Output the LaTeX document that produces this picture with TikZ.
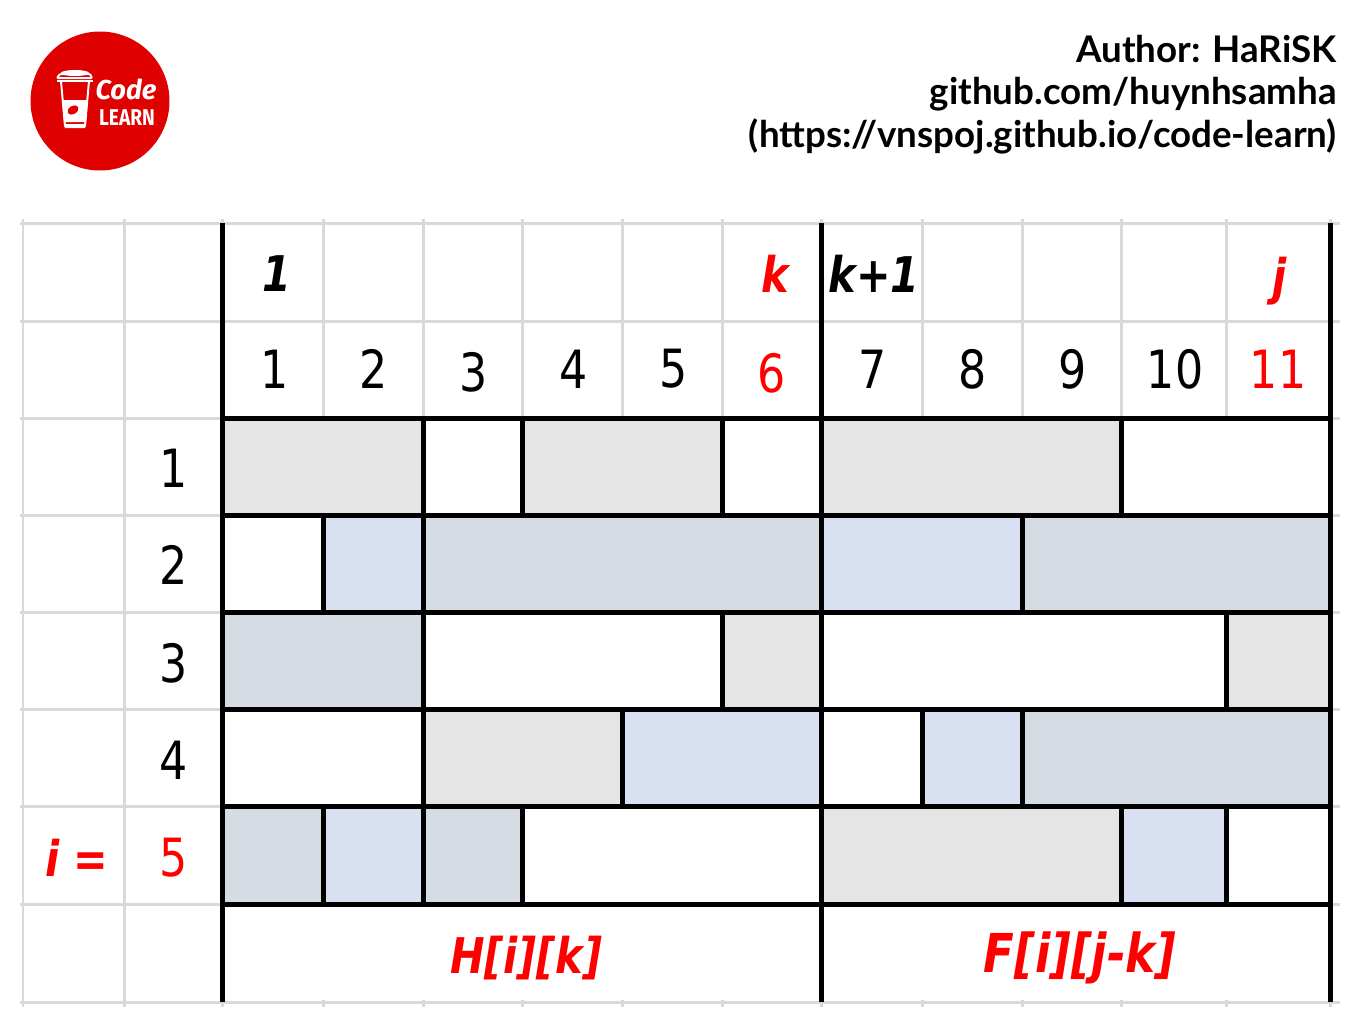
\documentclass[tikz,border=0pt]{standalone}
\usepackage{xcolor}
\usepackage{fontspec}
\setmainfont[FakeStretch=.84]{DejaVu Sans}
\newfontfamily\headfont{Lato}
\newfontfamily\logofont{Fira Sans}
\newfontfamily\learnfont[FakeStretch=.84]{Fira Sans}
\usetikzlibrary{positioning}
\definecolor{logored}{HTML}{DF0000}
\definecolor{cellgray}{HTML}{E5E5E5}
\definecolor{cellslate}{HTML}{D6DCE4}
\definecolor{celllav}{HTML}{D9E0F2}
\definecolor{gridgray}{HTML}{D9D9D9}
\definecolor{labelred}{HTML}{FF0000}
\tikzset{
    gridline/.style={draw=gridgray,line width=.06cm},
    barline/.style={draw=black,line width=.1cm},
    numlabel/.style={font=\fontsize{30}{30}\selectfont,inner sep=0pt},
    namelabel/.style={font=\fontsize{28}{28}\selectfont\bfseries\itshape,inner sep=0pt},
    headline/.style={font=\headfont\fontsize{20.9}{20.9}\selectfont\bfseries,inner sep=0pt,anchor=east}
}
\begin{document}
\begin{tikzpicture}[x=.02cm,y=-.02cm]
    \useasboundingbox (0,0) rectangle (1362,1028);
    \fill[white] (0,0) rectangle (1362,1028);
    % light grid
    \foreach \x in {23,124,222,323,423,522,622,722,821,922,1022,1121,1226,1330}
        \draw[gridline] (\x,219) -- (\x,1007);
    \foreach \y in {223,321,418,515,612,709,806,904,1002}
        \draw[gridline] (20,\y) -- (1340,\y);
    \fill[white] (222,418) rectangle (1330,1000);
    % cells: left, right, top, colour
    \foreach \a/\b/\y/\c in {
        222/423/418/cellgray,522/722/418/cellgray,821/1121/418/cellgray,
        323/423/515/celllav,423/821/515/cellslate,821/1022/515/celllav,1022/1330/515/cellslate,
        222/423/612/cellslate,722/821/612/cellgray,1226/1330/612/cellgray,
        423/622/709/cellgray,622/821/709/celllav,922/1022/709/celllav,1022/1330/709/cellslate,
        222/323/806/cellslate,323/423/806/celllav,423/522/806/cellslate,821/1121/806/cellgray,1121/1226/806/celllav}
        \fill[\c] (\a,\y) rectangle (\b,\y+97);
    % bars
    \foreach \y in {418,515,612,709,806,904}
        \draw[barline] (222,\y) -- (1330,\y);
    \foreach \x in {222,821,1330}
        \draw[barline] (\x,223) -- (\x,1002);
    \foreach \x/\y in {423/418,522/418,722/418,1121/418,
        323/515,423/515,1022/515,
        423/612,722/612,1226/612,
        423/709,622/709,922/709,1022/709,
        323/806,423/806,522/806,1121/806,1226/806}
        \draw[barline] (\x,\y) -- (\x,\y+97);
    % column numbers
    \foreach \n/\x/\y in {1/275/369,2/374/369,3/474/372,4/574/369,5/674/369,7/873/369,8/973/369,9/1073/369,10/1175/369}
        \node[numlabel] (col\n) at (\x,\y) {\n};
    \node[numlabel,text=labelred] (col6) at (772,373) {6};
    \node[numlabel,text=labelred] (col11) at (1278,369) {11};
    % row numbers
    \foreach \n/\y in {1/468,2/565,3/663,4/760}
        \node[numlabel] (row\n) at (174,\y) {\n};
    \node[numlabel,text=labelred] (row5) at (174,858) {5};
    % names
    \node[namelabel] (first) at (277,274) {1};
    \node[namelabel,text=labelred] (colk) at (775,274) {k};
    \node[namelabel] (colknext) at (874,274) {k+1};
    \node[namelabel,text=labelred] (colj) at (1280,281) {j};
    \node[namelabel,text=labelred] (rowi) at (77,858) {i =};
    \node[namelabel,text=labelred] (hlabel) at (526,958) {H[i][k]};
    \node[namelabel,text=labelred,font=\fontsize{30.5}{30.5}\selectfont\bfseries\itshape] (flabel) at (1080,958) {F[i][j-k]};
    % header
    \node[headline] (author) at (1337,49) {Author: HaRiSK};
    \node[headline] (github) at (1337,94) {github.com/huynhsamha};
    \node[headline] (site) at (1337,136) {(https://vnspoj.github.io/code-learn)};
    % logo
    \node[circle,fill=logored,inner sep=0pt,minimum size=2.78cm] (logo) at (100,101) {};
    \draw[white,line width=.04cm,line join=round] (61,81) -- (65,126) -- (85,126) -- (89,81);
    \fill[white] (62,100) -- (88,100) -- (86,122) -- (64,122) -- cycle;
    \fill[white] (64,124) -- (86,124) -- (85,128) -- (65,128) -- cycle;
    \draw[white,line width=.04cm,rounded corners=.02cm] (57,78) -- (60,74) -- (90,74) -- (92,78) -- cycle;
    \draw[white,line width=.03cm] (57,81) -- (93,81);
    \fill[white] (75,73) ellipse (14 and 3);
    \fill[logored,rotate around={30:(73,110)}] (73,110) ellipse (6 and 4);
    \node[inner sep=0pt,text=white,font=\logofont\fontsize{15.5}{15.5}\selectfont\bfseries\itshape] (code) at (126,89) {Code};
    \node[inner sep=0pt,text=white,font=\learnfont\fontsize{13}{13}\selectfont\bfseries] (learn) at (127,118) {LEARN};
\end{tikzpicture}
\end{document}
